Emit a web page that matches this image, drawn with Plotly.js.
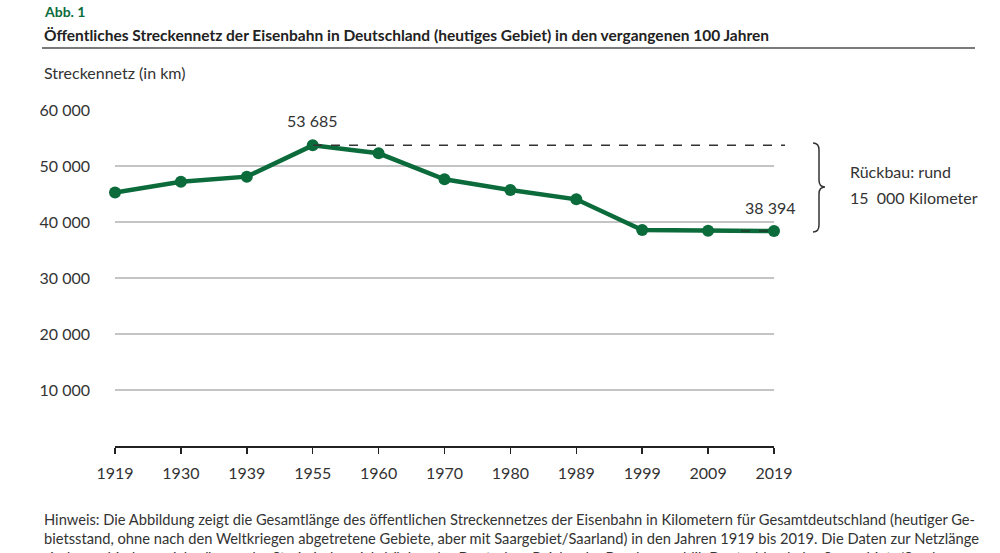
<!DOCTYPE html>
<html>
<head>
<meta charset="utf-8">
<script src="https://cdn.plot.ly/plotly-3.0.1.min.js"></script>
<style>html,body{margin:0;padding:0;background:#fff;}#chart{width:1000px;height:553px;}</style>
</head>
<body>
<div id="chart"></div>
<script>
// ---- data ----
const years = ["1919","1930","1939","1955","1960","1970","1980","1989","1999","2009","2019"];
const networkKm = [45250, 47200, 48100, 53685, 52270, 47620, 45720, 44050, 38570, 38450, 38394];
const yTickVals = [10000, 20000, 30000, 40000, 50000, 60000];
const yTickText = ["10 000", "20 000", "30 000", "40 000", "50 000", "60 000"];
const peakLabel = "53 685";
const lastLabel = "38 394";
const peakValue = 53685;
const lastValue = 38394;

const FONT = "Lato, 'Open Sans', sans-serif";
const GREEN = "#0b6b3b";
const TXT = "#333333";

// pixel -> paper helpers (plot area: x 115..774, y 110..446)
const L = 115, R = 774, T = 110, B = 446;
const px = v => (v - L) / (R - L);
const py = v => (B - v) / (B - T);

const trace = {
  x: years, y: networkKm, type: "scatter", mode: "lines+markers",
  line: {color: GREEN, width: 4.5},
  marker: {color: GREEN, size: 12},
  cliponaxis: false, hoverinfo: "x+y"
};

// curly brace path
const bx0 = 813, bx1 = 819, bx2 = 825, by0 = 143, bym = 187, by1 = 232;
const P = (x, y) => px(x).toFixed(5) + "," + py(y).toFixed(5);
const bracePath = "M" + P(bx0, by0) + " Q" + P(bx1, by0) + " " + P(bx1, by0 + 7) +
  " L" + P(bx1, bym - 7) + " Q" + P(bx1, bym) + " " + P(bx2, bym) +
  " Q" + P(bx1, bym) + " " + P(bx1, bym + 7) +
  " L" + P(bx1, by1 - 7) + " Q" + P(bx1, by1) + " " + P(bx0, by1);

const layout = {
  width: 1000, height: 553,
  margin: {l: L, r: 1000 - R, t: T, b: 553 - B, pad: 0},
  paper_bgcolor: "#fff", plot_bgcolor: "#fff",
  showlegend: false,
  font: {family: FONT, color: TXT, size: 15},
  xaxis: {
    type: "category", categoryarray: years, range: [0, years.length - 1],
    showgrid: false, zeroline: false, showline: true, linecolor: "#222", linewidth: 1.5,
    ticks: "outside", ticklen: 6, tickcolor: "#222", tickwidth: 1.5,
    tickfont: {family: FONT, size: 16, color: TXT}, ticklabelstandoff: 6
  },
  yaxis: {
    range: [0, 60000], tickvals: yTickVals, ticktext: yTickText,
    showgrid: true, gridcolor: "#c4c4c4", gridwidth: 1.2, zeroline: false, showline: false,
    ticks: "", tickfont: {family: FONT, size: 16, color: TXT}, ticklabelstandoff: 24
  },
  shapes: [
    {type: "line", xref: "paper", yref: "paper", x0: px(42), x1: px(975), y0: py(48), y1: py(48),
     line: {color: "#7a7a7a", width: 2}},
    {type: "line", xref: "paper", yref: "y", x0: px(313), x1: px(785), y0: peakValue, y1: peakValue,
     line: {color: "#333", width: 1.5, dash: "dash"}},
    {type: "line", xref: "paper", yref: "y", x0: px(741), x1: px(770), y0: lastValue, y1: lastValue,
     line: {color: "#1f3a2a", width: 1.5, dash: "dash"}, layer: "above"},
    {type: "path", xref: "paper", yref: "paper", path: bracePath,
     line: {color: "#333", width: 1.5}}
  ],
  annotations: [
    {xref: "paper", yref: "paper", x: px(42), y: py(12), xanchor: "left", yanchor: "middle",
     text: "<b>Abb. 1</b>", showarrow: false, font: {family: FONT, size: 14, color: GREEN}},
    {xref: "paper", yref: "paper", x: px(42), y: py(35), xanchor: "left", yanchor: "middle",
     text: "<b>Öffentliches Streckennetz der Eisenbahn in Deutschland (heutiges Gebiet) in den vergangenen 100 Jahren</b>",
     showarrow: false, font: {family: FONT, size: 15.5, color: "#222"}},
    {xref: "paper", yref: "paper", x: px(42), y: py(73), xanchor: "left", yanchor: "middle",
     text: "Streckennetz (in km)", showarrow: false, font: {family: FONT, size: 16, color: TXT}},
    {xref: "x", yref: "y", x: 3, y: peakValue, yshift: 25, xanchor: "center", yanchor: "middle",
     text: peakLabel, showarrow: false, font: {family: FONT, size: 16, color: TXT}},
    {xref: "x", yref: "y", x: 10, y: lastValue, yshift: 23, xshift: -4, xanchor: "center", yanchor: "middle",
     text: lastLabel, showarrow: false, font: {family: FONT, size: 16, color: TXT}},
    {xref: "paper", yref: "paper", x: px(848), y: py(171), xanchor: "left", yanchor: "middle",
     text: "Rückbau: rund", showarrow: false, font: {family: FONT, size: 16, color: TXT}},
    {xref: "paper", yref: "paper", x: px(848), y: py(197), xanchor: "left", yanchor: "middle",
     text: "15  000 Kilometer", showarrow: false, font: {family: FONT, size: 16, color: TXT}},
    {xref: "paper", yref: "paper", x: px(42), y: py(519), xanchor: "left", yanchor: "middle",
     text: "Hinweis: Die Abbildung zeigt die Gesamtlänge des öffentlichen Streckennetzes der Eisenbahn in Kilometern für Gesamtdeutschland (heutiger Ge-",
     showarrow: false, font: {family: FONT, size: 14.7, color: TXT}},
    {xref: "paper", yref: "paper", x: px(42), y: py(538), xanchor: "left", yanchor: "middle",
     text: "bietsstand, ohne nach den Weltkriegen abgetretene Gebiete, aber mit Saargebiet/Saarland) in den Jahren 1919 bis 2019. Die Daten zur Netzlänge",
     showarrow: false, font: {family: FONT, size: 14.7, color: TXT}},
    {xref: "paper", yref: "paper", x: px(42), y: py(557), xanchor: "left", yanchor: "middle",
     text: "sind verschiedenen Jahrgängen der Statistischen Jahrbücher des Deutschen Reichs, der Bundesrepublik Deutschland, des Saargebiets/Saarlan-",
     showarrow: false, font: {family: FONT, size: 14.7, color: TXT}}
  ]
};

Plotly.newPlot("chart", [trace], layout, {displayModeBar: false, staticPlot: true});
</script>
</body>
</html>
